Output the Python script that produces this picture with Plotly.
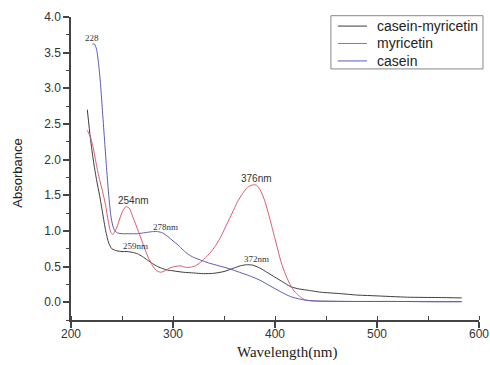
import plotly.graph_objects as go

# casein-myricetin (black)
wl_cm = [216, 219, 222, 225, 228, 231, 234, 237, 240, 245, 250, 255, 260, 265, 270, 275, 280, 285, 290,
         295, 300, 310, 320, 330, 340, 350, 360, 366, 372, 378, 385, 392, 400, 408, 415, 422, 431, 445,
         464, 480, 497, 530, 560, 583]
abs_cm = [2.70, 2.30, 1.98, 1.72, 1.50, 1.25, 1.00, 0.83, 0.75, 0.72, 0.71, 0.71, 0.70, 0.68, 0.64, 0.59,
          0.54, 0.50, 0.47, 0.45, 0.44, 0.42, 0.41, 0.40, 0.405, 0.43, 0.48, 0.51, 0.525, 0.52, 0.48, 0.42,
          0.35, 0.28, 0.22, 0.19, 0.17, 0.14, 0.12, 0.10, 0.09, 0.07, 0.065, 0.06]

# myricetin (red)
wl_my = [216, 219, 222, 225, 228, 231, 234, 237, 239, 241, 245, 248, 251, 254, 257, 260, 264, 268, 272,
         276, 280, 284, 288, 292, 297, 302, 307, 312, 317, 322, 327, 333, 338, 343, 348, 353, 358, 363,
         368, 373, 378, 382, 386, 390, 394, 398, 402, 406, 410, 414, 418, 422, 426, 430, 440, 460, 500,
         540, 583]
abs_my = [2.41, 2.32, 2.15, 1.92, 1.72, 1.55, 1.35, 1.10, 0.98, 0.95, 1.05, 1.18, 1.29, 1.34, 1.32, 1.22,
          1.07, 0.92, 0.76, 0.62, 0.51, 0.44, 0.42, 0.44, 0.48, 0.50, 0.51, 0.49, 0.49, 0.51, 0.56, 0.64,
          0.72, 0.82, 0.95, 1.10, 1.25, 1.40, 1.52, 1.61, 1.645, 1.64, 1.56, 1.42, 1.22, 1.00, 0.78, 0.56,
          0.40, 0.27, 0.17, 0.11, 0.06, 0.03, 0.015, 0.01, 0.01, 0.01, 0.01]

# casein (blue)
wl_cs = [221, 223, 225, 227, 229, 231, 233, 235, 237, 239, 241, 243, 246, 250, 255, 260, 265, 270, 275,
         280, 285, 290, 295, 300, 305, 310, 315, 320, 327, 335, 345, 355, 365, 375, 385, 395, 405, 415,
         425, 435, 450, 480, 520, 560, 583]
abs_cs = [3.62, 3.62, 3.55, 3.35, 3.05, 2.65, 2.25, 1.85, 1.50, 1.22, 1.07, 1.00, 0.97, 0.96, 0.96, 0.96,
          0.96, 0.97, 0.98, 0.99, 0.99, 0.97, 0.92, 0.86, 0.80, 0.73, 0.67, 0.63, 0.59, 0.55, 0.51, 0.47,
          0.42, 0.37, 0.31, 0.23, 0.15, 0.08, 0.04, 0.02, 0.015, 0.01, 0.01, 0.005, 0.005]

series_names = ["casein-myricetin", "myricetin", "casein"]
series_colors = ["#3c3c3c", "#d85a70", "#5a5cb0"]

# peak labels
lab_text = ["228", "254nm", "278nm", "259nm", "372nm", "376nm"]
lab_x = [221, 261.5, 292.5, 263, 381.5, 381.5]
lab_y = [3.70, 1.42, 1.05, 0.79, 0.61, 1.74]
lab_serif = [True, False, True, True, True, False]

x_ticks = [200, 300, 400, 500, 600]
y_ticks = [0.0, 0.5, 1.0, 1.5, 2.0, 2.5, 3.0, 3.5, 4.0]

fig = go.Figure()
for name, xs, ys, col in zip(series_names, [wl_cm, wl_my, wl_cs], [abs_cm, abs_my, abs_cs], series_colors):
    fig.add_trace(go.Scatter(x=xs, y=ys, mode="lines", name=name, showlegend=False,
                             line=dict(color=col, width=1, shape="spline", smoothing=0.6)))

for t, x, y, s in zip(lab_text, lab_x, lab_y, lab_serif):
    fig.add_annotation(x=x, y=y, xref="x", yref="y", text=t, showarrow=False,
                       font=dict(family="Liberation Serif" if s else "Arial",
                                 size=9 if s else 10, color="#333"))

# legend box (drawn in paper coordinates)
fig.add_shape(type="rect", xref="paper", yref="paper", x0=0.637, x1=1.0098, y0=0.8286, y1=1.0043,
              line=dict(color="#888", width=1), fillcolor="white", layer="above")
row_y = [0.970, 0.9126, 0.855]
for name, col, ry in zip(series_names, series_colors, row_y):
    fig.add_shape(type="line", xref="paper", yref="paper", x0=0.654, x1=0.7255, y0=ry, y1=ry,
                  line=dict(color=col, width=1), layer="above")
    fig.add_annotation(x=0.745, y=ry, xref="paper", yref="paper", text=name, showarrow=False,
                       xanchor="left", yanchor="middle",
                       font=dict(family="Arial", size=14, color="#222"))

fig.add_annotation(x=0.53, y=-0.108, xref="paper", yref="paper", text="Wavelength(nm)",
                   showarrow=False, yanchor="middle",
                   font=dict(family="Liberation Serif", size=15, color="#222"))
fig.add_annotation(x=-0.13, y=0.486, xref="paper", yref="paper", text="Absorbance",
                   showarrow=False, textangle=-90, xanchor="center", yanchor="middle",
                   font=dict(family="Arial", size=13, color="#222"))

fig.update_layout(
    width=490, height=365,
    margin=dict(l=71, r=11, t=17, b=45, autoexpand=False),
    paper_bgcolor="white", plot_bgcolor="white",
    font=dict(family="Arial", size=12, color="#333"),
    showlegend=False,
    xaxis=dict(range=[200, 600], tickvals=x_ticks, showgrid=False, zeroline=False,
               showline=True, linecolor="#444", linewidth=1.5,
               ticks="outside", ticklen=6, tickcolor="#444", tickwidth=1.5,
               ticklabelstandoff=-4,
               minor=dict(dtick=50, ticks="inside", ticklen=4, tickcolor="#444", tickwidth=1),
               tickfont=dict(size=12, color="#333")),
    yaxis=dict(range=[-0.25, 4.0], tickvals=y_ticks, tickformat=".1f", showgrid=False,
               zeroline=False, showline=True, linecolor="#444", linewidth=1.5,
               ticks="outside", ticklen=6, tickcolor="#444", tickwidth=1.5,
               minor=dict(dtick=0.25, ticks="outside", ticklen=3, tickcolor="#444", tickwidth=1),
               tickfont=dict(size=12, color="#333")),
)

fig.write_html("out.html")
